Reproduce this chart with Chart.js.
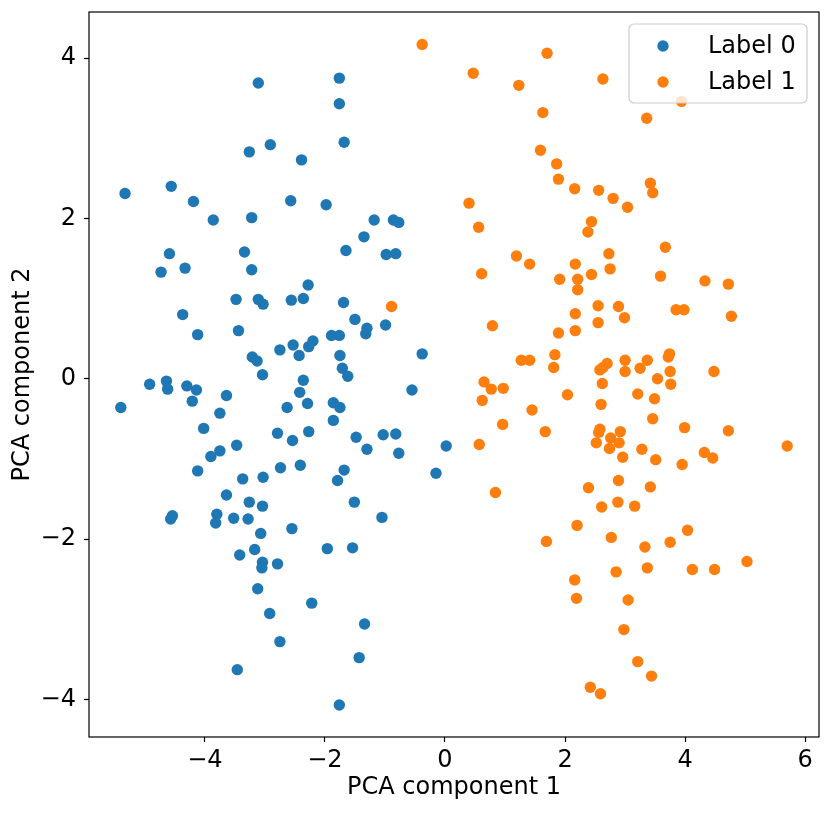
<!DOCTYPE html>
<html>
<head>
<meta charset="utf-8">
<script src="https://cdn.jsdelivr.net/npm/chart.js@4"></script>
<style>
  html, body { margin: 0; padding: 0; background: #fff; }
  canvas { display: block; }
</style>
</head>
<body>
<canvas id="chart" width="831" height="814"></canvas>
<script>
// PCA projections
const label0X = [-3.11, -2.91, -3.26, -5.33, -4.56, -4.19, -3.86, -3.22, -2.57, -4.59,
  -4.73, -4.33, -3.34, -3.22, -3.48, -3.11, -3.03, -2.56, -2.36, -4.37,
  -4.12, -3.44, -2.75, -2.53, -3.21, -3.13, -3.04, -4.92, -4.64, -4.62,
  -4.30, -4.14, -5.40, -3.64, -4.21, -3.75, -2.63, -4.02, -2.79, -2.54,
  -3.47, -3.75, -3.90, -4.12, -2.74, -3.37, -3.03, -3.64, -3.26, -3.04,
  -4.54, -4.57, -3.80, -3.82, -3.52, -3.28, -2.55, -3.07, -3.17, -3.42,
  -3.04, -3.05, -2.79, -3.12, -2.92, -2.75, -3.46, -1.76, -1.76, -1.68,
  -2.39, -1.98, -1.18, -0.86, -0.77, -1.35, -1.65, -0.98, -0.82, -2.28,
  -1.69, -1.50, -1.30, -1.32, -0.99, -1.89, -1.76, -2.20, -2.27, -2.43,
  -1.75, -0.38, -1.71, -1.62, -2.36, -2.42, -2.29, -1.86, -1.75, -0.55,
  -1.86, -2.27, -1.48, -1.30, -1.03, -0.82, -0.77, 0.02, -0.15, -2.41,
  -1.68, -1.79, -1.51, -1.05, -1.96, -1.54, -2.22, -1.34, -1.43, -1.76];
const label0Y = [3.69, 2.92, 2.83, 2.31, 2.40, 2.21, 1.98, 2.01, 2.22, 1.56,
  1.33, 1.38, 1.58, 1.36, 0.99, 0.99, 0.93, 0.98, 1.00, 0.80,
  0.55, 0.60, 0.36, 0.42, 0.27, 0.22, 0.05, -0.07, -0.03, -0.13,
  -0.09, -0.14, -0.36, -0.21, -0.28, -0.43, -0.36, -0.62, -0.68, -0.77,
  -0.83, -0.90, -0.97, -1.15, -1.11, -1.25, -1.23, -1.45, -1.54, -1.59,
  -1.71, -1.75, -1.69, -1.80, -1.74, -1.75, -1.87, -1.93, -2.13, -2.20,
  -2.29, -2.36, -2.31, -2.62, -2.93, -3.28, -3.63, 3.75, 3.43, 2.95,
  2.73, 2.17, 1.98, 1.98, 1.95, 1.77, 1.60, 1.55, 1.56, 1.17,
  0.95, 0.74, 0.63, 0.56, 0.67, 0.54, 0.54, 0.47, 0.40, 0.29,
  0.29, 0.31, 0.13, 0.03, -0.02, -0.17, -0.31, -0.30, -0.36, -0.14,
  -0.52, -0.66, -0.73, -0.88, -0.70, -0.69, -0.93, -0.84, -1.18, -1.08,
  -1.14, -1.27, -1.54, -1.73, -2.12, -2.11, -2.80, -3.06, -3.48, -4.07];

const label1X = [-0.38, 1.70, 0.47, 1.23, 2.63, 1.63, 1.59, 1.86, 1.89, 2.16,
  2.56, 2.80, 3.04, 0.40, 0.56, 2.44, 2.38, 2.73, 2.75, 1.19,
  1.41, 0.61, 2.17, 1.91, 2.21, 2.21, 2.44, 2.55, 2.89, 2.99,
  2.17, 2.55, 2.17, 1.89, 0.79, 1.27, 1.41, 1.83, 1.81, 2.70,
  2.58, 2.63, 3.00, 3.00, 3.94, 3.36, 3.42, 3.46, 3.67, 3.59,
  4.33, 4.72, 3.85, 3.98, 4.77, 3.37, 3.25, 3.74, 3.72, 3.75,
  4.48, 0.65, 0.77, 0.97, 0.62, 2.04, 2.62, 2.60, 3.21, 1.45,
  0.96, 1.67, 0.57, 2.58, 2.56, 2.52, 2.76, 2.92, 2.90, 2.74,
  2.96, 0.84, 2.39, 2.89, 2.61, 2.88, 3.16, 2.20, 1.69, 2.77,
  2.85, 2.16, 2.19, 3.05, 2.98, 3.21, 2.42, 2.59, -0.89, 3.54,
  3.76, 3.49, 3.46, 3.99, 4.72, 5.70, 3.28, 3.51, 3.95, 4.32,
  4.46, 3.42, 4.04, 3.75, 3.33, 3.37, 4.12, 4.49, 5.03, 3.44];
const label1Y = [4.17, 4.06, 3.81, 3.66, 3.74, 3.32, 2.85, 2.68, 2.49, 2.37,
  2.35, 2.25, 2.14, 2.19, 1.89, 1.96, 1.83, 1.56, 1.37, 1.53,
  1.43, 1.31, 1.43, 1.24, 1.24, 1.11, 1.30, 0.91, 0.90, 0.76,
  0.81, 0.70, 0.60, 0.57, 0.66, 0.23, 0.23, 0.30, 0.14, 0.19,
  0.11, 0.14, 0.23, 0.09, 3.46, 3.25, 2.44, 2.32, 1.64, 1.28,
  1.22, 1.18, 0.86, 0.86, 0.78, 0.23, 0.13, 0.31, 0.27, 0.09,
  0.09, -0.04, -0.13, -0.12, -0.27, -0.20, -0.06, -0.32, -0.19, -0.39,
  -0.57, -0.66, -0.82, -0.63, -0.67, -0.80, -0.74, -0.66, -0.80, -0.87,
  -0.98, -1.42, -1.36, -1.27, -1.60, -1.54, -1.59, -1.83, -2.03, -1.98,
  -2.41, -2.51, -2.74, -2.76, -3.13, -3.53, -3.85, -3.93, 0.90, 0.00,
  -0.07, -0.25, -0.50, -0.61, -0.65, -0.84, -0.88, -1.01, -1.07, -0.92,
  -0.99, -1.35, -1.89, -2.04, -2.10, -2.36, -2.38, -2.38, -2.28, -3.71];

const seriesNames = ['Label 0', 'Label 1'];
const xTicks = [-4, -2, 0, 2, 4, 6];
const yTicks = [-4, -2, 0, 2, 4];
const xTitle = 'PCA component 1';
const yTitle = 'PCA component 2';

const FONT = "'DejaVu Sans', sans-serif";
const pts = (xs, ys) => xs.map((x, i) => ({ x: x, y: ys[i] }));
const fmt = v => (v < 0 ? '\u2212' + Math.abs(v) : String(v));

// matplotlib style frame round the axes
const frame = {
  id: 'frame',
  afterDatasetsDraw(chart) {
    const { ctx, chartArea: a } = chart;
    ctx.save();
    ctx.strokeStyle = '#000';
    ctx.lineWidth = 1.2;
    ctx.strokeRect(a.left, a.top, a.right - a.left, a.bottom - a.top);
    ctx.restore();
  }
};

// legend box inside the upper right corner
const boxLegend = {
  id: 'boxLegend',
  afterDatasetsDraw(chart) {
    const { ctx, chartArea: a } = chart;
    const w = 178, h = 79;
    const x0 = a.right - 12 - w, y0 = a.top + 12;
    ctx.save();
    ctx.beginPath();
    ctx.roundRect(x0, y0, w, h, 5);
    ctx.fillStyle = 'rgba(255,255,255,0.8)';
    ctx.fill();
    ctx.strokeStyle = '#cccccc';
    ctx.lineWidth = 1.2;
    ctx.stroke();
    ctx.font = '24px ' + FONT;
    ctx.textBaseline = 'middle';
    chart.data.datasets.forEach((ds, i) => {
      const cy = y0 + 22 + i * 36;
      ctx.beginPath();
      ctx.arc(x0 + 34, cy, 5.7, 0, Math.PI * 2);
      ctx.fillStyle = ds.backgroundColor;
      ctx.fill();
      ctx.fillStyle = '#000';
      ctx.fillText(ds.label, x0 + 79, cy + 1);
    });
    ctx.restore();
  }
};

new Chart(document.getElementById('chart').getContext('2d'), {
  type: 'scatter',
  data: {
    datasets: [{
      label: seriesNames[0],
      data: pts(label0X, label0Y),
      backgroundColor: '#1f77b4',
      borderWidth: 0,
      pointRadius: 5.7
    }, {
      label: seriesNames[1],
      data: pts(label1X, label1Y),
      backgroundColor: '#ff7f0e',
      borderWidth: 0,
      pointRadius: 5.7
    }]
  },
  options: {
    responsive: false,
    animation: false,
    layout: { padding: { left: 0, right: 12, top: 12, bottom: 0 } },
    plugins: {
      legend: { display: false },
      tooltip: { enabled: false }
    },
    scales: {
      x: {
        type: 'linear',
        min: -5.93,
        max: 6.23,
        afterFit: s => { s.height = 77; s.paddingLeft = 0; s.paddingRight = 0; },
        afterBuildTicks: s => { s.ticks = xTicks.map(v => ({ value: v })); },
        grid: { drawOnChartArea: false, drawTicks: true, tickLength: 5, tickWidth: 1.2, tickColor: '#000' },
        border: { display: false },
        ticks: { color: '#000', font: { family: FONT, size: 24 }, padding: 4, maxRotation: 0, callback: fmt },
        title: { display: true, text: xTitle, color: '#000', font: { family: FONT, size: 24 }, padding: { top: 0, bottom: 12 } }
      },
      y: {
        type: 'linear',
        min: -4.47,
        max: 4.575,
        afterFit: s => { s.width = 89; s.paddingTop = 0; s.paddingBottom = 0; },
        afterBuildTicks: s => { s.ticks = yTicks.map(v => ({ value: v })); },
        grid: { drawOnChartArea: false, drawTicks: true, tickLength: 5, tickWidth: 1.2, tickColor: '#000' },
        border: { display: false },
        ticks: { color: '#000', font: { family: FONT, size: 24 }, padding: 8, callback: fmt },
        title: { display: true, text: yTitle, color: '#000', font: { family: FONT, size: 24 }, padding: { top: 8, bottom: 0 } }
      }
    }
  },
  plugins: [frame, boxLegend]
});
</script>
</body>
</html>
